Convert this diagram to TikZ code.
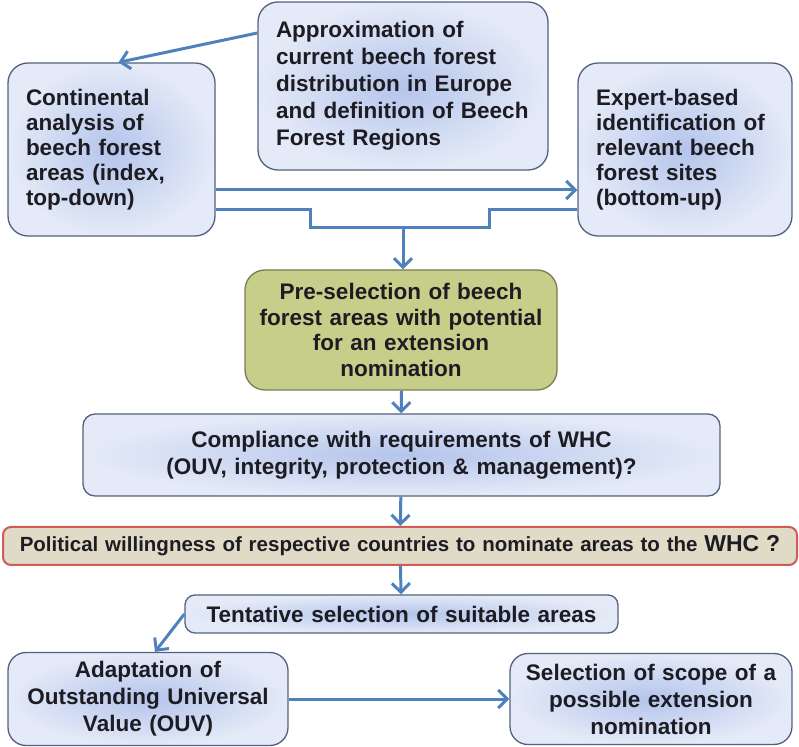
\documentclass[tikz,border=0pt]{standalone}
\usepackage{fontspec}
\setmainfont{Liberation Sans}
\usetikzlibrary{arrows.meta}
\definecolor{boxin}{RGB}{180,196,235}
\definecolor{boxout}{RGB}{228,234,247}
\definecolor{boxedge}{RGB}{82,98,124}
\definecolor{greenfill}{RGB}{199,206,138}
\definecolor{greenedge}{RGB}{118,126,78}
\definecolor{beige}{RGB}{223,219,199}
\definecolor{rededge}{RGB}{208,92,86}
\definecolor{arrowblue}{RGB}{79,129,189}
\definecolor{ink}{RGB}{28,28,34}
\tikzset{
  basebox/.style={draw=boxedge, line width=1.3pt, rectangle, rounded corners=20pt, inner sep=0pt,
    text=ink, font=\bfseries\fontsize{22.5}{25}\selectfont},
  bluebox/.style={basebox, inner color=boxin, outer color=boxout},
  flow/.style={draw=arrowblue, line width=3pt, -{Straight Barb[length=9pt,width=18pt]}},
  link/.style={draw=arrowblue, line width=3pt}
}
\begin{document}
\begin{tikzpicture}[x=1pt,y=1pt]
\useasboundingbox (0,0) rectangle (799,746);
\node[bluebox, text width=254pt, align=left, minimum height=168pt, inner xsep=18pt,
  font=\bfseries\fontsize{22.5}{27}\selectfont] (approx) at (403,660)
  {Approximation of\\current beech forest\\distribution in Europe\\and definition of Beech\\Forest Regions};
\node[bluebox, text width=171pt, align=left, minimum height=173pt, inner xsep=18pt] (contin) at (111.5,596.5)
  {Continental\\analysis of\\beech forest\\areas (index,\\top-down)};
\node[bluebox, text width=178pt, align=left, minimum height=173pt, inner xsep=18pt] (expert) at (685,596.5)
  {Expert-based\\identification of\\relevant beech\\forest sites\\(bottom-up)};
\node[basebox, draw=greenedge, fill=greenfill, text width=312pt, align=center, minimum height=120pt,
  font=\bfseries\fontsize{22.5}{25.5}\selectfont] (presel) at (401,416)
  {Pre-selection of beech\\forest areas with potential\\for an extension\\nomination};
\node[bluebox, rounded corners=12pt, text width=637pt, align=center, minimum height=82pt,
  font=\bfseries\fontsize{22.5}{27}\selectfont] (comply) at (401.5,291)
  {Compliance with requirements of WHC\\(OUV, integrity, protection \& management)?};
\node[draw=rededge, line width=2pt, fill=beige, rounded corners=8pt, text width=794pt, align=center,
  minimum height=38pt, inner sep=0pt, text=ink, font=\bfseries\fontsize{20.5}{22}\selectfont] (polit) at (400,200)
  {Political willingness of respective countries to nominate areas to the {\fontsize{23}{24}\selectfont WHC ?}};
\node[bluebox, rounded corners=10pt, text width=433pt, align=center, minimum height=38pt] (tentat) at (401.5,132)
  {Tentative selection of suitable areas};
\node[bluebox, rounded corners=18pt, text width=280pt, align=center, minimum height=93pt,
  font=\bfseries\fontsize{22.5}{27}\selectfont] (adapt) at (148,47)
  {Adaptation of\\Outstanding Universal\\Value (OUV)};
\node[bluebox, rounded corners=18pt, text width=282pt, align=center, minimum height=91pt,
  font=\bfseries\fontsize{22.5}{27}\selectfont] (scope) at (651,47)
  {Selection of scope of a\\possible extension\\nomination};
\coordinate (join) at (403,518);

\draw[flow] ([yshift=53pt]approx.west) -- ([xshift=7pt]contin.north);
\draw[flow] ([yshift=-40.5pt]contin.east) -- ([yshift=-40.5pt]expert.west);
\draw[link] ([yshift=-60.5pt]contin.east) -- ++(95,0) |- (join);
\draw[link] ([yshift=-60.5pt]expert.west) -- ++(-88,0) |- (join);
\draw[flow] (join) -- (join |- presel.north);
\draw[flow] (presel) -- (comply);
\draw[flow] (comply) -- (polit);
\draw[flow] (polit) -- (tentat);
\draw[flow] (tentat.west) -- ([xshift=7pt]adapt.north);
\draw[flow] (adapt) -- (scope);
\end{tikzpicture}
\end{document}
